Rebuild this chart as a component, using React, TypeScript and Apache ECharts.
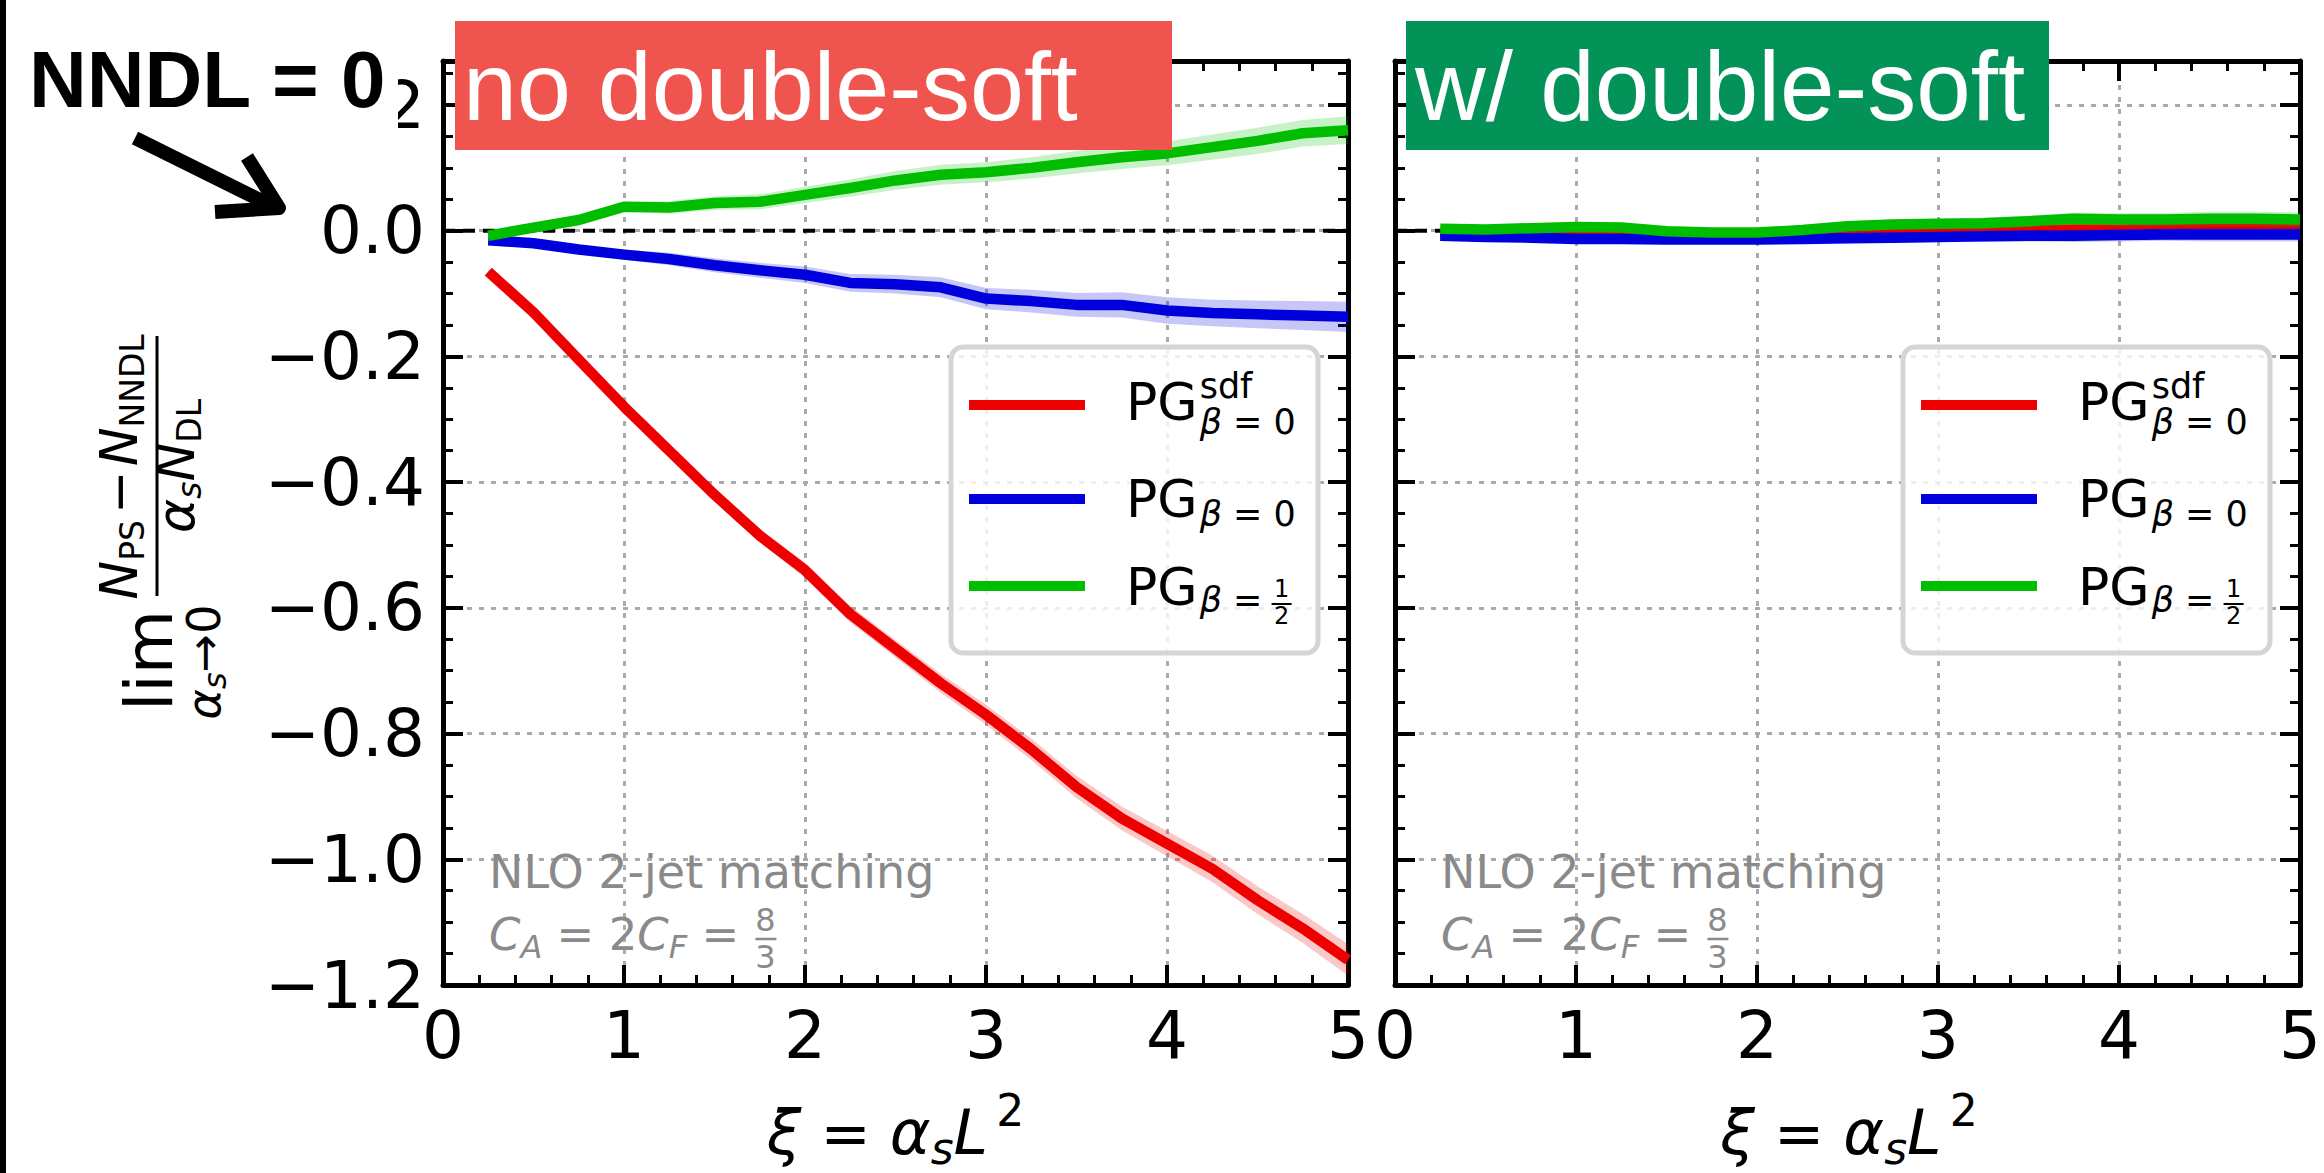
import React, { useEffect, useRef } from 'react';
import * as echarts from 'echarts';

// ---------- data ----------
const xi = [0.25, 0.5, 0.75, 1, 1.25, 1.5, 1.75, 2, 2.25, 2.5, 2.75, 3, 3.25, 3.5, 3.75, 4, 4.25, 4.5, 4.75, 5];

// left panel: no double-soft
const redL = [-0.065, -0.13, -0.205, -0.28, -0.35, -0.42, -0.485, -0.54, -0.61, -0.665, -0.72, -0.77, -0.825, -0.885, -0.935, -0.975, -1.015, -1.065, -1.11, -1.16];
const blueL = [-0.015, -0.02, -0.03, -0.038, -0.045, -0.055, -0.063, -0.07, -0.083, -0.085, -0.09, -0.108, -0.112, -0.118, -0.118, -0.127, -0.131, -0.133, -0.135, -0.137];
const greenL = [-0.008, 0.005, 0.017, 0.038, 0.037, 0.044, 0.046, 0.057, 0.068, 0.08, 0.089, 0.093, 0.1, 0.109, 0.117, 0.123, 0.133, 0.143, 0.155, 0.16];
const redErrL = [0.004, 0.006, 0.007, 0.008, 0.009, 0.01, 0.011, 0.012, 0.013, 0.014, 0.015, 0.016, 0.017, 0.018, 0.019, 0.02, 0.021, 0.022, 0.023, 0.025];
const blueErrL = [0.004, 0.006, 0.007, 0.008, 0.01, 0.011, 0.012, 0.013, 0.014, 0.015, 0.016, 0.017, 0.018, 0.019, 0.02, 0.021, 0.021, 0.022, 0.023, 0.024];
const greenErrL = [0.004, 0.006, 0.007, 0.008, 0.01, 0.011, 0.012, 0.013, 0.014, 0.015, 0.016, 0.016, 0.017, 0.018, 0.019, 0.019, 0.02, 0.021, 0.021, 0.022];

// right panel: with double-soft
const redR = [-0.005, -0.006, -0.007, -0.006, -0.007, -0.008, -0.008, -0.007, -0.006, -0.004, -0.003, -0.002, -0.001, 0.001, 0.002, 0.002, 0.003, 0.003, 0.003, 0.003];
const blueR = [-0.008, -0.01, -0.011, -0.013, -0.013, -0.014, -0.014, -0.014, -0.013, -0.012, -0.011, -0.01, -0.009, -0.008, -0.008, -0.007, -0.006, -0.006, -0.006, -0.006];
const greenR = [0.003, 0.002, 0.004, 0.006, 0.005, -0.001, -0.003, -0.003, 0.001, 0.007, 0.01, 0.011, 0.012, 0.015, 0.019, 0.018, 0.018, 0.019, 0.019, 0.018];
const redErrR = [0.003, 0.004, 0.004, 0.005, 0.005, 0.006, 0.006, 0.006, 0.007, 0.007, 0.007, 0.008, 0.008, 0.008, 0.009, 0.009, 0.009, 0.01, 0.01, 0.01];
const blueErrR = [0.003, 0.004, 0.004, 0.005, 0.005, 0.006, 0.006, 0.007, 0.007, 0.008, 0.008, 0.008, 0.009, 0.009, 0.01, 0.01, 0.01, 0.011, 0.011, 0.011];
const greenErrR = [0.003, 0.004, 0.004, 0.005, 0.005, 0.006, 0.006, 0.007, 0.007, 0.008, 0.008, 0.008, 0.009, 0.009, 0.01, 0.01, 0.01, 0.011, 0.011, 0.011];

const xTicks = { min: 0, max: 5, step: 1 };
const yTicks = { min: -1.2, max: 0.27, step: 0.2, minor: 0.05 };

const RED = '#ee0000';
const BLUE = '#0000dc';
const GREEN = '#00bd00';
const RED_BAND = 'rgba(240,0,0,0.22)';
const BLUE_BAND = 'rgba(0,0,220,0.22)';
const GREEN_BAND = 'rgba(0,190,0,0.22)';

// ---------- text helpers ----------
type Piece = { t: string; s: number; i?: boolean; dy?: number; pre?: number; post?: number; w?: string; f?: string };

let mctx: CanvasRenderingContext2D | null = null;
function tw(p: Piece): number {
  if (!mctx) mctx = document.createElement('canvas').getContext('2d');
  const fam = p.f || 'DejaVu Sans';
  mctx!.font = `${p.i ? 'italic ' : ''}${p.w || 'normal'} ${p.s}px "${fam}"`;
  return mctx!.measureText(p.t).width;
}
function runWidth(pieces: Piece[]): number {
  return pieces.reduce((a, p) => a + (p.pre || 0) + tw(p) + (p.post || 0), 0);
}
function run(pieces: Piece[], x: number, y: number, opt: { align?: 'left' | 'center'; rotation?: number; color?: string; z?: number } = {}) {
  const widths = pieces.map((p) => (p.pre || 0) + tw(p) + (p.post || 0));
  const total = widths.reduce((a, b) => a + b, 0);
  let cur = opt.align === 'center' ? -total / 2 : 0;
  const z = opt.z ?? 100;
  const children = pieces.map((p, k) => {
    const el = {
      type: 'text',
      x: cur + (p.pre || 0),
      y: (p.dy || 0) - 0.346 * p.s,
      z,
      style: {
        text: p.t,
        fontSize: p.s,
        fontFamily: p.f || 'DejaVu Sans',
        fontStyle: p.i ? 'italic' : 'normal',
        fontWeight: p.w || 'normal',
        fill: opt.color || '#000',
        align: 'left',
        verticalAlign: 'middle',
      },
    };
    cur += widths[k];
    return el;
  });
  return { type: 'group', x, y, rotation: opt.rotation || 0, z, children };
}

// ---------- chart layout ----------
const GRID_TOP = 61;
const GRID_H = 924;
const PANELS = [
  { left: 443, width: 905 },
  { left: 1395, width: 908 },
];

function yLabel(v: number): string {
  const k = v / yTicks.step;
  if (Math.abs(k - Math.round(k)) > 1e-6) return '';
  const r = Math.round(k) * yTicks.step;
  if (Math.abs(r) < 1e-9) return '0.0';
  return (r < 0 ? '\u2212' : '') + Math.abs(r).toFixed(1);
}

function buildOption() {
  const grid = PANELS.map((p) => ({ left: p.left, top: GRID_TOP, width: p.width, height: GRID_H, containLabel: false }));
  const axisLine = { show: true, onZero: false, lineStyle: { color: '#000', width: 5 } };
  const majorTick = { show: true, inside: true, length: 20, lineStyle: { color: '#000', width: 4 } };
  const minorTickLine = { show: true, inside: true, length: 10, lineStyle: { color: '#000', width: 3 } };
  const gridLine = { show: true, lineStyle: { color: '#aaaaaa', width: 3, type: [5, 7] } };

  const xAxis: any[] = [];
  const yAxis: any[] = [];
  PANELS.forEach((_, gi) => {
    const cx = {
      type: 'value', gridIndex: gi, min: xTicks.min, max: xTicks.max, interval: xTicks.step,
      axisLine, axisTick: majorTick,
      minorTick: { show: true, splitNumber: 5, length: 10, lineStyle: { color: '#000', width: 3 } },
    };
    xAxis.push({ ...cx, position: 'bottom', axisLabel: { show: true, fontSize: 66, fontFamily: 'DejaVu Sans', color: '#000', margin: 17 }, splitLine: gridLine });
    xAxis.push({ ...cx, position: 'top', axisLabel: { show: false }, splitLine: { show: false } });
    const cy = { type: 'value', gridIndex: gi, min: yTicks.min, max: yTicks.max };
    yAxis.push({ ...cy, position: 'left', interval: yTicks.step, axisLine, axisTick: majorTick,
      axisLabel: { show: gi === 0, formatter: yLabel, fontSize: 66, fontFamily: 'DejaVu Sans', color: '#000', margin: 18 },
      splitLine: gridLine });
    yAxis.push({ ...cy, position: 'left', interval: yTicks.minor, axisLine: { show: false, onZero: false }, axisTick: minorTickLine, axisLabel: { show: false }, splitLine: { show: false } });
    yAxis.push({ ...cy, position: 'right', interval: yTicks.step, axisLine, axisTick: majorTick, axisLabel: { show: false }, splitLine: { show: false } });
    yAxis.push({ ...cy, position: 'right', interval: yTicks.minor, axisLine: { show: false, onZero: false }, axisTick: minorTickLine, axisLabel: { show: false }, splitLine: { show: false } });
  });

  const panelsData = [
    { red: redL, blue: blueL, green: greenL, re: redErrL, be: blueErrL, ge: greenErrL },
    { red: redR, blue: blueR, green: greenR, re: redErrR, be: blueErrR, ge: greenErrR },
  ];

  const series: any[] = [];
  panelsData.forEach((pd, gi) => {
    const xIdx = gi * 2;
    const yIdx = gi * 4;
    series.push({
      type: 'line', xAxisIndex: xIdx, yAxisIndex: yIdx, symbol: 'none', silent: true, z: 2,
      data: [[xTicks.min, 0], [xTicks.max, 0]],
      lineStyle: { color: '#000', width: 4, type: [12, 8] },
    });
    const trio = [
      { y: pd.red, e: pd.re, c: RED, b: RED_BAND },
      { y: pd.blue, e: pd.be, c: BLUE, b: BLUE_BAND },
      { y: pd.green, e: pd.ge, c: GREEN, b: GREEN_BAND },
    ];
    trio.forEach((s, k) => {
      const bandData = xi.map((x, i) => [x, s.y[i] - s.e[i], s.y[i] + s.e[i]]);
      series.push({
        type: 'custom', xAxisIndex: xIdx, yAxisIndex: yIdx, silent: true, z: 3 + k * 2,
        data: bandData,
        encode: { x: 0, y: [1, 2] },
        renderItem: (params: any, api: any) => {
          if (params.dataIndex !== 0) return null;
          const top = bandData.map((d) => api.coord([d[0], d[2]]));
          const bot = bandData.map((d) => api.coord([d[0], d[1]])).reverse();
          return { type: 'polygon', shape: { points: top.concat(bot) }, style: { fill: s.b } };
        },
      });
      series.push({
        type: 'line', xAxisIndex: xIdx, yAxisIndex: yIdx, symbol: 'none', silent: true, z: 4 + k * 2,
        data: xi.map((x, i) => [x, s.y[i]]),
        lineStyle: { color: s.c, width: 10.5, join: 'round' },
      });
    });
  });

  // ---------- graphics (annotations, legends, titles) ----------
  const g: any[] = [];
  // left black border line
  g.push({ type: 'rect', shape: { x: 0, y: 0, width: 6, height: 1173 }, style: { fill: '#000' }, z: 100 });

  PANELS.forEach((p) => {
    const ox = p.left;
    // legend box
    g.push({ type: 'rect', shape: { x: ox + 508, y: 347, width: 367, height: 306, r: 12 }, style: { fill: 'rgba(255,255,255,0.8)', stroke: '#d5d5d5', lineWidth: 5 }, z: 90 });
    const lys = [405, 499, 586];
    [RED, BLUE, GREEN].forEach((c, k) => {
      g.push({ type: 'line', shape: { x1: ox + 526, y1: lys[k], x2: ox + 642, y2: lys[k] }, style: { stroke: c, lineWidth: 10 }, z: 100 });
    });
    const tx = ox + 683;
    const pg: Piece = { t: 'PG', s: 52 };
    const wpg = tw(pg) + 2;
    g.push(run([pg], tx, 420));
    g.push(run([{ t: 'sdf', s: 35 }], tx + wpg, 398));
    g.push(run([{ t: '\u03b2', s: 35, i: true }, { t: ' = 0', s: 35 }], tx + wpg, 434));
    g.push(run([pg], tx, 517));
    g.push(run([{ t: '\u03b2', s: 35, i: true }, { t: ' = 0', s: 35 }], tx + wpg, 526));
    g.push(run([pg], tx, 605));
    const bq: Piece[] = [{ t: '\u03b2', s: 35, i: true }, { t: ' = ', s: 35 }];
    g.push(run(bq, tx + wpg, 612));
    const fx = tx + wpg + runWidth(bq) - 2;
    g.push(run([{ t: '1', s: 24 }], fx + 10, 597, { align: 'center' }));
    g.push({ type: 'line', shape: { x1: fx, y1: 604, x2: fx + 20, y2: 604 }, style: { stroke: '#000', lineWidth: 2 }, z: 100 });
    g.push(run([{ t: '2', s: 24 }], fx + 10, 624, { align: 'center' }));

    // annotation
    const gray = '#8a8a8a';
    g.push(run([{ t: 'NLO 2-jet matching', s: 46 }], ox + 46, 888, { color: gray }));
    const l2: Piece[] = [
      { t: 'C', s: 45, i: true }, { t: 'A', s: 32, i: true, dy: 8 }, { t: ' = 2', s: 45 },
      { t: 'C', s: 45, i: true }, { t: 'F', s: 32, i: true, dy: 8 }, { t: ' = ', s: 45 },
    ];
    g.push(run(l2, ox + 46, 950, { color: gray }));
    const f2 = ox + 46 + runWidth(l2) + 2;
    g.push(run([{ t: '8', s: 32 }], f2 + 10, 931, { align: 'center', color: gray }));
    g.push({ type: 'line', shape: { x1: f2, y1: 939, x2: f2 + 21, y2: 939 }, style: { stroke: gray, lineWidth: 2.5 }, z: 100 });
    g.push(run([{ t: '3', s: 32 }], f2 + 10, 968, { align: 'center', color: gray }));

    // x axis title
    g.push(run([
      { t: '\u03be', s: 62, i: true }, { t: ' = ', s: 60 }, { t: '\u03b1', s: 62, i: true },
      { t: 's', s: 44, i: true, dy: 10 }, { t: 'L', s: 62, i: true }, { t: '2', s: 44, dy: -28, pre: 8 },
    ], ox + p.width / 2, 1154, { align: 'center' }));
  });

  // y axis title (rotated)
  const R = Math.PI / 2;
  g.push(run([{ t: 'lim', s: 66 }], 172, 711, { rotation: R }));
  g.push(run([{ t: '\u03b1', s: 46, i: true }, { t: 's', s: 32, i: true, dy: 6 }, { t: '\u2192', s: 46 }, { t: '0', s: 46 }], 220, 662, { rotation: R, align: 'center' }));
  g.push({ type: 'rect', shape: { x: 155.5, y: 336, width: 3, height: 260 }, style: { fill: '#000' }, z: 100 });
  g.push(run([
    { t: 'N', s: 52, i: true }, { t: 'PS', s: 33, dy: 7 }, { t: '\u2212', s: 52, pre: 6, post: 4 },
    { t: 'N', s: 52, i: true }, { t: 'NNDL', s: 33, dy: 7 },
  ], 137, 467, { rotation: R, align: 'center' }));
  g.push(run([
    { t: '\u03b1', s: 52, i: true }, { t: 's', s: 33, i: true, dy: 7 }, { t: 'N', s: 52, i: true }, { t: 'DL', s: 33, dy: 7 },
  ], 194, 466, { rotation: R, align: 'center' }));

  // white patch behind "NNDL = 0"
  g.push({ type: 'rect', shape: { x: 6, y: 0, width: 392, height: 135 }, style: { fill: '#fff' }, z: 100 });
  g.push(run([{ t: 'NNDL = 0', s: 80, w: 'bold', f: 'Liberation Sans' }], 29, 107, { z: 101 }));
  // arrow
  g.push({ type: 'line', shape: { x1: 135, y1: 138, x2: 268, y2: 204 }, style: { stroke: '#000', lineWidth: 14 }, z: 101 });
  g.push({ type: 'polyline', shape: { points: [[247, 157], [279, 208], [215, 212]] }, style: { stroke: '#000', lineWidth: 14, lineJoin: 'round', fill: null }, z: 101 });

  // title boxes
  g.push({ type: 'rect', shape: { x: 455, y: 21, width: 717, height: 129 }, style: { fill: '#f0544e' }, z: 102 });
  g.push(run([{ t: 'no double-soft', s: 97, f: 'Liberation Sans' }], 463, 120, { color: '#fff', z: 103 }));
  g.push({ type: 'rect', shape: { x: 1406, y: 21, width: 643, height: 129 }, style: { fill: '#039257' }, z: 102 });
  g.push(run([{ t: 'w/ double-soft', s: 98, f: 'Liberation Sans' }], 1415, 120, { color: '#fff', z: 103 }));

  return {
    animation: false,
    backgroundColor: '#fff',
    grid,
    xAxis,
    yAxis,
    series,
    graphic: { elements: g },
  };
}

export default function App() {
  const ref = useRef<HTMLDivElement>(null);
  useEffect(() => {
    if (!ref.current) return;
    const chart = echarts.init(ref.current, null, { renderer: 'svg' });
    chart.setOption(buildOption() as any);
    return () => chart.dispose();
  }, []);
  return <div ref={ref} style={{ position: 'absolute', left: 0, top: 0, width: 2324, height: 1173 }} />;
}
